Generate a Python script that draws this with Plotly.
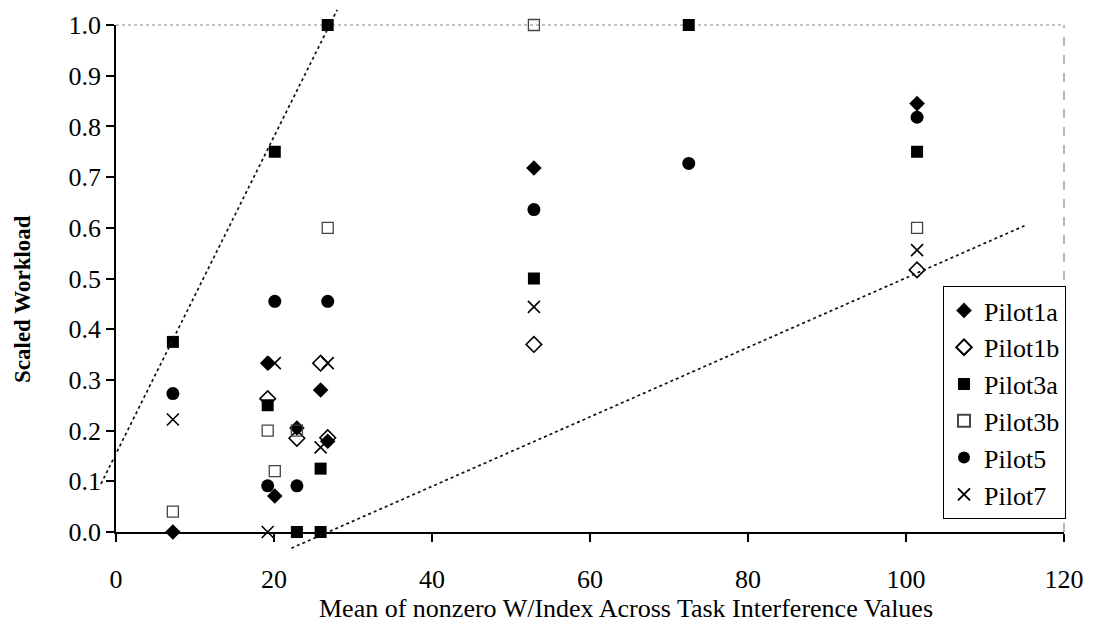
import plotly.graph_objects as go

# ---------------- data ----------------
series_names = ["Pilot1a", "Pilot1b", "Pilot3a", "Pilot3b", "Pilot5", "Pilot7"]

pilot1a_x = [7.2, 19.2, 20.1, 22.9, 25.9, 26.8, 52.9, 101.4]
pilot1a_y = [0.0, 0.333, 0.071, 0.205, 0.280, 0.179, 0.718, 0.845]

pilot1b_x = [19.2, 22.9, 25.9, 26.8, 52.9, 101.4]
pilot1b_y = [0.263, 0.185, 0.333, 0.186, 0.370, 0.517]

pilot3a_x = [7.2, 19.2, 20.1, 22.9, 25.9, 25.9, 26.8, 52.9, 72.5, 101.4]
pilot3a_y = [0.375, 0.25, 0.75, 0.0, 0.125, 0.0, 1.0, 0.5, 1.0, 0.75]

pilot3b_x = [7.2, 19.2, 20.1, 22.9, 26.8, 52.9, 101.4]
pilot3b_y = [0.04, 0.2, 0.12, 0.2, 0.6, 1.0, 0.6]

pilot5_x = [7.2, 19.2, 20.1, 22.9, 26.8, 52.9, 72.5, 101.4]
pilot5_y = [0.273, 0.091, 0.455, 0.091, 0.455, 0.636, 0.727, 0.818]

pilot7_x = [7.2, 19.2, 20.1, 25.9, 26.8, 52.9, 101.4]
pilot7_y = [0.222, 0.0, 0.333, 0.167, 0.333, 0.444, 0.556]

# dotted guide lines (endpoints in data units)
upper_line_x = [-1.9, 28.0]
upper_line_y = [0.095, 1.030]
lower_line_x = [22.2, 115.0]
lower_line_y = [-0.032, 0.604]

x_ticks = [0, 20, 40, 60, 80, 100, 120]
y_ticks = [0.0, 0.1, 0.2, 0.3, 0.4, 0.5, 0.6, 0.7, 0.8, 0.9, 1.0]

x_title = "Mean of nonzero W/Index Across Task Interference Values"
y_title = "Scaled Workload"

# ---------------- layout geometry (pixels) ----------------
W, H = 1096, 632
PAGE = 8  # default page body margin shifts the figure by this much
PL, PR, PT, PB = 116 - PAGE, 1064 - PAGE, 25 - PAGE, 532 - PAGE   # main plot area
EL, ER, ET, EB = PL - 20, PR, 0, PB + 20                          # extended area for guide lines
paper_w = ER - EL
paper_h = EB - ET

def px_x(p):
    return (p - PAGE - EL) / paper_w

def px_y(p):
    return (EB - (p - PAGE)) / paper_h

X_MIN, X_MAX = 0, 120
Y_MIN, Y_MAX = 0, 1
ux = (X_MAX - X_MIN) / (PR - PL)
uy = (Y_MAX - Y_MIN) / (PB - PT)
x2_range = [X_MIN - (PL - EL) * ux, X_MAX + (ER - PR) * ux]
y2_range = [Y_MIN - (EB - PB) * uy, Y_MAX + (PT - ET) * uy]

FONT = "Liberation Serif"

styles = {
    "Pilot1a": dict(symbol="diamond", size=12, color="black", line=dict(width=0)),
    "Pilot1b": dict(symbol="diamond-open", size=12, color="black", line=dict(width=1.6, color="black")),
    "Pilot3a": dict(symbol="square", size=12, color="black", line=dict(width=0)),
    "Pilot3b": dict(symbol="square-open", size=11, color="#444444", line=dict(width=1.3, color="#444444")),
    "Pilot5": dict(symbol="circle", size=13, color="black", line=dict(width=0)),
    "Pilot7": dict(symbol="x-thin-open", size=12, color="black", line=dict(width=1.6, color="black")),
}
data = {
    "Pilot1a": (pilot1a_x, pilot1a_y),
    "Pilot1b": (pilot1b_x, pilot1b_y),
    "Pilot3a": (pilot3a_x, pilot3a_y),
    "Pilot3b": (pilot3b_x, pilot3b_y),
    "Pilot5": (pilot5_x, pilot5_y),
    "Pilot7": (pilot7_x, pilot7_y),
}

fig = go.Figure()

# guide lines on an overlay subplot covering a slightly larger area (same scale)
for lx, ly in [(upper_line_x, upper_line_y), (lower_line_x, lower_line_y)]:
    fig.add_trace(go.Scatter(
        x=lx, y=ly, mode="lines", xaxis="x2", yaxis="y2",
        line=dict(color="#111111", width=1.7, dash="dot"),
        showlegend=False, hoverinfo="skip",
    ))

for name in series_names:
    xs, ys = data[name]
    fig.add_trace(go.Scatter(
        x=xs, y=ys, mode="markers", name=name,
        marker=styles[name], cliponaxis=False,
    ))

common_axis = dict(showgrid=False, zeroline=False, automargin=False)

fig.update_layout(
    width=W, height=H,
    margin=dict(l=EL, r=W - ER, t=ET, b=H - EB, pad=0, autoexpand=False),
    paper_bgcolor="white", plot_bgcolor="rgba(0,0,0,0)",
    font=dict(family=FONT, color="black"),
    showlegend=True,
    xaxis=dict(
        **common_axis, domain=[(PL - EL) / paper_w, (PR - EL) / paper_w],
        range=[X_MIN, X_MAX], anchor="y",
        tickmode="array", tickvals=x_ticks, ticktext=[str(v) for v in x_ticks],
        showline=True, linecolor="black", linewidth=1.5,
        ticks="outside", ticklen=8, tickwidth=1.5, tickcolor="black",
        tickfont=dict(family=FONT, size=26, color="black"),
        ticklabelstandoff=15,
    ),
    yaxis=dict(
        **common_axis, domain=[(EB - PB) / paper_h, (EB - PT) / paper_h],
        range=[Y_MIN, Y_MAX], anchor="x",
        tickmode="array", tickvals=y_ticks, ticktext=[f"{v:.1f}" for v in y_ticks],
        showline=True, linecolor="black", linewidth=1.5,
        ticks="outside", ticklen=8, tickwidth=1.5, tickcolor="black",
        tickfont=dict(family=FONT, size=26, color="black"),
        ticklabelstandoff=0,
    ),
    xaxis3=dict(
        **common_axis, overlaying="x", anchor="y", range=[X_MIN, X_MAX],
        tickmode="array", tickvals=x_ticks, showticklabels=False, showline=False,
        ticks="inside", ticklen=8, tickwidth=1.5, tickcolor="black",
    ),
    yaxis3=dict(
        **common_axis, overlaying="y", anchor="x", range=[Y_MIN, Y_MAX],
        tickmode="array", tickvals=y_ticks, showticklabels=False, showline=False,
        ticks="inside", ticklen=8, tickwidth=1.5, tickcolor="black",
    ),
    xaxis2=dict(domain=[0, 1], range=x2_range, anchor="y2", visible=False,
                fixedrange=True, automargin=False),
    yaxis2=dict(domain=[0, 1], range=y2_range, anchor="x2", visible=False,
                fixedrange=True, automargin=False),
    legend=dict(
        x=px_x(943), y=px_y(286), xanchor="left", yanchor="top",
        bgcolor="white", bordercolor="black", borderwidth=1,
        font=dict(family=FONT, size=26, color="black"),
        itemsizing="constant", tracegroupgap=0,
    ),
    shapes=[
        dict(type="line", xref="x domain", yref="y domain", x0=0, x1=1, y0=1, y1=1,
             line=dict(color="#888888", width=1.2, dash="dot"), layer="below"),
        dict(type="line", xref="x domain", yref="y domain", x0=1, x1=1, y0=0, y1=1,
             line=dict(color="#888888", width=1.2, dash="dash"), layer="below"),
    ],
    annotations=[
        dict(text=x_title, xref="paper", yref="paper", x=px_x(626), y=px_y(608),
             xanchor="center", yanchor="middle", showarrow=False,
             font=dict(family=FONT, size=26, color="black")),
        dict(text=f"<b>{y_title}</b>", xref="paper", yref="paper", x=px_x(22), y=px_y(299),
             xanchor="center", yanchor="middle", showarrow=False, textangle=-90,
             font=dict(family=FONT, size=23, color="black")),
    ],
)

fig.write_html("out.html")
